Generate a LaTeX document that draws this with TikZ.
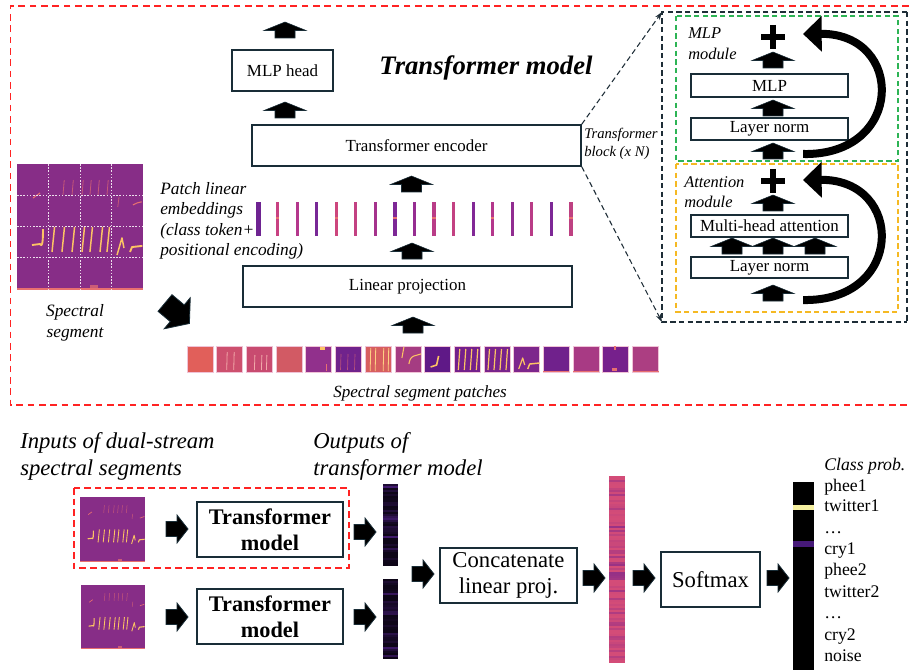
\documentclass[tikz,border=0pt]{standalone}
\usepackage{fontspec}
\setmainfont{Liberation Serif}
\usetikzlibrary{arrows.meta,calc}
\definecolor{boxc}{RGB}{25,45,55}
\definecolor{redd}{RGB}{255,35,35}
\definecolor{greend}{RGB}{45,180,85}
\definecolor{oranged}{RGB}{245,185,35}
\definecolor{panelc}{RGB}{30,45,55}
\definecolor{specbg}{RGB}{135,45,135}
\definecolor{hot}{RGB}{252,195,100}
\definecolor{warm}{RGB}{232,112,112}
\definecolor{pinkA}{RGB}{212,76,120}
\definecolor{violB}{RGB}{125,38,140}
\definecolor{darkv}{RGB}{14,6,24}
\definecolor{streak}{RGB}{95,38,160}
\definecolor{patchedge}{RGB}{240,195,215}
\definecolor{yelstripe}{RGB}{245,240,160}
\definecolor{purstripe}{RGB}{70,25,120}
\definecolor{p0}{RGB}{225,95,90}
\definecolor{p1}{RGB}{205,80,110}
\definecolor{p2}{RGB}{200,75,112}
\definecolor{p3}{RGB}{210,90,100}
\definecolor{p4}{RGB}{145,48,140}
\definecolor{p5}{RGB}{112,35,140}
\definecolor{p6}{RGB}{215,95,95}
\definecolor{p7}{RGB}{165,60,130}
\definecolor{p8}{RGB}{95,25,135}
\definecolor{p9}{RGB}{115,32,140}
\definecolor{p10}{RGB}{120,35,140}
\definecolor{p11}{RGB}{125,38,140}
\definecolor{p12}{RGB}{112,33,140}
\definecolor{p13}{RGB}{168,58,132}
\definecolor{p14}{RGB}{118,32,140}
\definecolor{p15}{RGB}{172,62,130}
\definecolor{t0}{RGB}{110,35,145}
\definecolor{t1}{RGB}{200,65,130}
\definecolor{t2}{RGB}{180,55,140}
\definecolor{t3}{RGB}{120,40,150}
\definecolor{t4}{RGB}{205,70,125}
\definecolor{t5}{RGB}{195,65,130}
\definecolor{t6}{RGB}{165,50,140}
\definecolor{t7}{RGB}{125,40,150}
\definecolor{t8}{RGB}{150,45,145}
\definecolor{t9}{RGB}{185,60,135}
\definecolor{t10}{RGB}{195,65,130}
\definecolor{t11}{RGB}{130,40,150}
\definecolor{t12}{RGB}{180,55,140}
\definecolor{t13}{RGB}{145,45,145}
\definecolor{t14}{RGB}{185,60,135}
\definecolor{t15}{RGB}{125,40,150}
\definecolor{t16}{RGB}{190,65,130}
\newcommand\myfB{\fontsize{12.7pt}{15pt}\selectfont}
\newcommand\myfI{\fontsize{13pt}{15.4pt}\selectfont\itshape}
\newcommand\myfBig{\fontsize{17pt}{20pt}\selectfont}
\newcommand\myfBold{\fontsize{16.7pt}{19.5pt}\selectfont\bfseries}
\newcommand\myfCls{\fontsize{13.3pt}{16pt}\selectfont}
\def\mylwf{1}
\tikzset{
  box/.style={draw=boxc, line width=1.1pt, fill=white, inner sep=0pt, align=center},
  wh/.style 2 args={minimum width=#1*0.75pt, minimum height=#2*0.75pt},
  lbl/.style={inner sep=0pt, align=left},
  uparr/.pic={\fill[black, draw=boxc, line width=0.4pt] (0,0) -- (21,8.5) -- (10,8.5) -- (10,16) -- (-10,16) -- (-10,8.5) -- (-21,8.5) -- cycle;},
  rarr/.pic={\fill[black, draw=boxc, line width=0.6pt] (0,-7.5) -- (11,-7.5) -- (11,-14) -- (22,0) -- (11,14) -- (11,7.5) -- (0,7.5) -- cycle;},
  specimg/.pic={
    \fill[specbg] (0,0) rectangle (100,100);
    \foreach \x in {36.5,43.7,51.6,57.9,64.3,71.4} \draw[warm!65!specbg, line width=\mylwf*0.6pt] (\x,24.6) -- (\x+1,12.7);
    \draw[warm, line width=\mylwf*0.8pt] (12.7,27) -- (18.3,23);
    \draw[warm, line width=\mylwf*0.8pt] (92,32.5) to[bend left=10] (99,30);
    \draw[warm!65!specbg, line width=\mylwf*0.6pt] (80,34) -- (81,26);
    \draw[hot, line width=\mylwf*1.4pt, line join=round] (11.9,64.3) -- (18.3,63.5) to[out=-60,in=-90] (20.6,51.6);
    \foreach \x in {27.8,35.7,43.7,51.6,57.9,65.9,71.4} \draw[hot, line width=\mylwf*1.1pt] (\x,69.8) -- (\x+2,50);
    \draw[hot, line width=\mylwf*1.1pt, line join=round] (79.4,72.2) -- (83.3,58.7) -- (84.9,66.7);
    \draw[hot, line width=\mylwf*1.4pt, line join=round] (89.7,69.8) -- (91.3,65.9) -- (99.5,65);
    \fill[warm] (0,98.6) rectangle (100,100);
    \fill[warm!70!specbg] (58,96) rectangle (64,98.6);
  }
}
\begin{document}
\begin{tikzpicture}[x=0.75pt,y=-0.75pt]
\useasboundingbox (0,0) rectangle (909,670);

% ---------- top frame ----------
\draw[redd, line width=1.1pt, dash pattern=on 5pt off 3.5pt] (909,6) -- (10.5,6) -- (10.5,405) -- (909,405);

\node (title) at (486,68) {\fontsize{20pt}{24pt}\selectfont\bfseries\itshape Transformer model};

% boxes
\node[box, wh={101}{41}, font=\myfB] (mlphead) at (282.5,70.5) {MLP head};
\node[box, wh={329}{41}, font=\myfB] (enc) at (416.5,145.5) {Transformer encoder};
\node[box, wh={329}{41}, font=\myfB] (linproj) at (407.5,286.5) {Linear projection};

% block arrows
\pic at (285,22) {uparr};
\pic at (285,102) {uparr};
\pic at (411.5,176) {uparr};
\pic at (412,243) {uparr};
\pic at (413,317) {uparr};

% token bars
\foreach \i in {0,...,16} {
  \pgfmathsetmacro\tx{258+\i*19.56}
  \fill[t\i] (\tx-1.6,202) rectangle (\tx+1.6,236);
}
\fill[t0] (256,202) rectangle (260.5,236);
\foreach \i in {1,4,7,9,12,16} {
  \pgfmathsetmacro\tx{258+\i*19.56}
  \fill[warm] (\tx-1.6,217) rectangle (\tx+1.6,219);
}

\node[lbl, anchor=west, font=\myfI] (embtxt) at (160,221) {Patch linear\\embeddings\\(class token+\\positional encoding)};

% big spectrogram
\def\mylwf{1}
\pic[scale=1.26] at (17,164) {specimg};
\node[inner sep=0pt, wh={126}{125}] (spec) at (80,226.5) {};
\foreach \k in {1,2,3} {
  \draw[white!85!specbg, line width=0.6pt, dash pattern=on 1.2pt off 1.2pt] (17+\k*31.5,164) -- (17+\k*31.5,289);
  \draw[white!85!specbg, line width=0.6pt, dash pattern=on 1.2pt off 1.2pt] (17,164+\k*31.25) -- (143,164+\k*31.25);
}
\node[lbl, align=center, font=\myfI] (spectxt) at (75,323) {Spectral\\segment};

% diagonal arrow
\pic[scale=1.45, rotate=-40] at (165,303) {rarr};

% patches
\foreach \i in {0,...,15} {
  \pgfmathsetmacro\px{187+\i*29.7}
  \fill[p\i, draw=patchedge, line width=0.5pt] (\px,346) rectangle ++(26,26);
}
\begin{scope}[shift={(216.7,346)}]
  \foreach \x in {10,17} \draw[warm!60!white, line width=0.6pt] (\x,24) -- (\x+0.5,6);
\end{scope}
\begin{scope}[shift={(246.4,346)}]
  \foreach \x in {8,15,20} \draw[warm!60!white, line width=0.6pt] (\x,24) -- (\x+0.5,9);
\end{scope}
\begin{scope}[shift={(305.8,346)}]
  \fill[hot] (14,1) rectangle (19,3.5);
  \draw[warm, line width=0.6pt] (21,25) -- (21,18);
\end{scope}
\begin{scope}[shift={(335.5,346)}]
  \foreach \x in {5,12,19} \draw[warm!60!p5, line width=0.5pt] (\x,24) -- (\x+0.5,8);
\end{scope}
\begin{scope}[shift={(365.2,346)}]
  \foreach \x in {5,10,18,23} \draw[hot!80!white, line width=0.6pt] (\x,25) -- (\x+0.5,2);
\end{scope}
\begin{scope}[shift={(394.9,346)}]
  \draw[hot, line width=0.8pt] (7,12) -- (9,1);
  \draw[hot, line width=0.8pt] (14,18) to[out=80,in=200] (19,10) -- (26,8);
\end{scope}
\begin{scope}[shift={(424.6,346)}]
  \draw[hot, line width=1.2pt, line join=round] (6,21) -- (12,19) -- (14,10);
\end{scope}
\begin{scope}[shift={(454.3,346)}]
  \foreach \x in {4,10,16,22} \draw[hot, line width=0.9pt] (\x,24) -- (\x+1.5,3);
\end{scope}
\begin{scope}[shift={(484,346)}]
  \foreach \x in {4,10,16,22} \draw[hot, line width=0.9pt] (\x,24) -- (\x+1.5,3);
\end{scope}
\begin{scope}[shift={(513.7,346)}]
  \draw[hot, line width=0.9pt, line join=round] (5,23) -- (9,12) -- (11,19);
  \draw[hot, line width=1.1pt, line join=round] (14,23) -- (16,18) -- (26,17);
\end{scope}
\begin{scope}[shift={(543.4,346)}]
  \fill[warm] (0,24.5) rectangle (26,26);
\end{scope}
\begin{scope}[shift={(573.1,346)}]
  \fill[warm] (0,24.5) rectangle (26,26);
\end{scope}
\begin{scope}[shift={(602.8,346)}]
  \fill[warm] (11,0) rectangle (13,4);
  \fill[warm] (9,22) rectangle (14,25);
\end{scope}
\begin{scope}[shift={(632.5,346)}]
  \fill[warm] (0,24.5) rectangle (26,26);
\end{scope}

\node[font=\fontsize{12.8pt}{15pt}\selectfont\itshape] (patchtxt) at (420,393) {Spectral segment patches};

% ---------- transformer block panel ----------
\coordinate (pTL) at (662,12);
\coordinate (pBL) at (662,322);
\draw[panelc, line width=0.9pt, dash pattern=on 4pt off 2.5pt] (907,12) -- (pTL) -- (pBL) -- (907,322);
\draw[panelc, line width=0.9pt, dash pattern=on 4pt off 2.5pt] (907,12) -- (907,322);
\draw[panelc, line width=0.8pt, dash pattern=on 4pt off 2.5pt, -{Stealth[length=6pt,width=4pt]}] (enc.north east) -- (pTL);
\draw[panelc, line width=0.8pt, dash pattern=on 4pt off 2.5pt, -{Stealth[length=6pt,width=4pt]}] (enc.south east) -- (pBL);
\node[lbl, anchor=west, font=\fontsize{11pt}{13.5pt}\selectfont\itshape] (blocktxt) at (584,144) {Transformer\\block (x N)};

\draw[greend, line width=0.9pt, dash pattern=on 4pt off 2.5pt] (676,16) rectangle (898,161);
\draw[oranged, line width=0.9pt, dash pattern=on 4pt off 2.5pt] (676,164) rectangle (898,312);

\node[lbl, anchor=west, font=\fontsize{12.3pt}{16pt}\selectfont\itshape] (mlpmod) at (688,44) {MLP\\module};
\node[lbl, anchor=west, font=\fontsize{12.3pt}{15pt}\selectfont\itshape] (attmod) at (684,192) {Attention\\module};

\node[box, wh={157}{23}, font=\myfB] (mlp) at (769.5,85.5) {MLP};
\node[box, wh={157}{22}, font=\myfB] (ln1) at (769.5,129) {Layer norm};
\node[box, wh={157}{22}, font=\myfB] (mha) at (769.5,226) {Multi-head attention};
\node[box, wh={157}{21}, font=\myfB] (ln2) at (769.5,267.5) {Layer norm};

% plus signs
\draw[black, line width=5.2pt] (761,37) -- (785,37) (773,25) -- (773,49);
\draw[black, line width=5.2pt] (761,181) -- (785,181) (773,169) -- (773,193);

\pic at (773,52) {uparr};
\pic at (773,100) {uparr};
\pic at (773,143) {uparr};
\pic at (773,195) {uparr};
\pic at (732,238) {uparr};
\pic at (815,238) {uparr};
\pic at (773,238) {uparr};
\pic at (773,285) {uparr};

% residual curved arrows
\draw[black, line width=6pt, -{Triangle[width=26pt,length=14pt]}] (803,154) .. controls (905,156) and (905,33) .. (803,34);
\draw[black, line width=6pt, -{Triangle[width=26pt,length=14pt]}] (803,300) .. controls (905,302) and (905,179) .. (803,180);

% ---------- bottom pipeline ----------
\node[lbl, anchor=west, font=\fontsize{17pt}{20.25pt}\selectfont\itshape] (intxt) at (20,456.5) {Inputs of dual-stream\\spectral segments};
\node[lbl, anchor=west, font=\fontsize{17pt}{20.25pt}\selectfont\itshape] (outtxt) at (313,456.5) {Outputs of\\transformer model};

\draw[redd, line width=1.1pt, dash pattern=on 5pt off 3pt] (74,488) rectangle (349,568);

\def\mylwf{0.6}
\pic[scale=0.65] at (80,497) {specimg};
\pic[scale=0.64] at (81,585) {specimg};
\node[inner sep=0pt, wh={65}{65}] (in1) at (112.5,529.5) {};
\node[inner sep=0pt, wh={64}{63}] (in2) at (113,616.5) {};

\node[box, wh={146}{55}, font=\myfBold] (tm1) at (270,529.5) {Transformer\\model};
\node[box, wh={146}{55}, font=\myfBold] (tm2) at (270,616.5) {Transformer\\model};

\pic at (166,529) {rarr};
\pic at (166,617) {rarr};
\pic at (354,532) {rarr};
\pic at (354,617) {rarr};

% output vectors
\pgfmathsetseed{11}
\fill[darkv] (383,484) rectangle (398,566);
\foreach \k in {0,...,40} {
  \pgfmathsetmacro\yy{484+\k*2}
  \pgfmathsetmacro\pp{int(75*rnd^3)}
  \fill[streak!\pp!darkv] (383,\yy) rectangle (398,\yy+2);
}
\fill[darkv] (383,579) rectangle (398,659);
\foreach \k in {0,...,39} {
  \pgfmathsetmacro\yy{579+\k*2}
  \pgfmathsetmacro\pp{int(75*rnd^3)}
  \fill[streak!\pp!darkv] (383,\yy) rectangle (398,\yy+2);
}
\node[inner sep=0pt, wh={15}{82}] (o1) at (390.5,525) {};
\node[inner sep=0pt, wh={15}{80}] (o2) at (390.5,619) {};

\pic at (412,574) {rarr};
\node[box, wh={137}{55}, font=\myfBig] (concat) at (508.5,575.5) {Concatenate\\linear proj.};
\pic at (583,578) {rarr};

% concatenated vector
\fill[pinkA] (609,476) rectangle (625,663);
\foreach \k in {0,...,92} {
  \pgfmathsetmacro\yy{476+\k*2}
  \pgfmathsetmacro\pp{int(100-75*rnd^3)}
  \fill[pinkA!\pp!violB] (609,\yy) rectangle (625,\yy+2);
}
\node[inner sep=0pt, wh={16}{187}] (cvec) at (617,569.5) {};

\pic at (633,578) {rarr};
\node[box, wh={99}{55}, font=\myfBig] (softmax) at (710.5,579.5) {Softmax};
\pic at (767,578) {rarr};

% class probability bar
\fill[black] (793,482) rectangle (814,670);
\fill[yelstripe] (793,504.5) rectangle (814,509.5);
\fill[purstripe] (793,541) rectangle (814,547);
\node[inner sep=0pt, wh={21}{188}] (cbar) at (803.5,576) {};

\node[anchor=base west, inner sep=0pt, font=\myfCls\itshape] (cp) at (824,470) {Class prob.};
\node[anchor=base west, inner sep=0pt, font=\myfCls] (c1) at (824,491) {phee1};
\node[anchor=base west, inner sep=0pt, font=\myfCls] (c2) at (824,511.5) {twitter1};
\node[anchor=base west, inner sep=0pt, font=\myfCls] (c3) at (824,533) {…};
\node[anchor=base west, inner sep=0pt, font=\myfCls] (c4) at (824,554) {cry1};
\node[anchor=base west, inner sep=0pt, font=\myfCls] (c5) at (824,575.5) {phee2};
\node[anchor=base west, inner sep=0pt, font=\myfCls] (c6) at (824,597) {twitter2};
\node[anchor=base west, inner sep=0pt, font=\myfCls] (c7) at (824,618) {…};
\node[anchor=base west, inner sep=0pt, font=\myfCls] (c8) at (824,640) {cry2};
\node[anchor=base west, inner sep=0pt, font=\myfCls] (c9) at (824,661) {noise};
\end{tikzpicture}
\end{document}
